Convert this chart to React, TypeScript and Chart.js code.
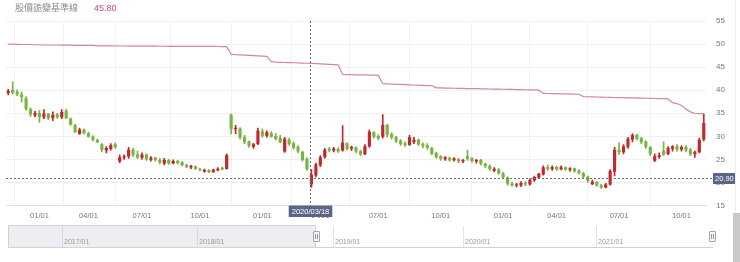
import React, { useEffect, useRef } from 'react';
import { Chart, registerables } from 'chart.js';

Chart.register(...registerables);

const LEGEND_LABEL = '股價詭變基準線';
const LEGEND_VALUE = '45.80';

const OPEN = [
  39.4, 40.0, 39.6, 39.0, 38.2, 35.8, 34.6, 35.0, 34.2, 34.8,
  34.0, 34.7, 34.2, 35.4, 33.8, 32.4, 30.6, 31.4, 30.6, 29.9,
  29.2, 28.2, 27.0, 27.3, 28.2, 24.6, 25.4, 25.7, 27.0, 26.0,
  25.4, 26.0, 25.0, 25.3, 24.8, 24.2, 24.8, 24.2, 24.6, 24.3,
  23.7, 23.3, 23.4, 22.9, 22.4, 22.6, 22.3, 22.7, 23.1, 23.0,
  34.6, 31.6, 31.6, 29.8, 28.8, 27.8, 28.4, 31.0, 30.2, 30.6,
  30.0, 29.6, 26.8, 29.2, 28.4, 27.6, 26.6, 25.0, 19.6, 21.6,
  23.8, 25.6, 27.3, 27.0, 27.2, 27.0, 28.4, 27.4, 27.5, 26.7,
  26.2, 27.9, 30.8, 30.0, 30.0, 32.4, 30.4, 29.8, 29.0, 28.4,
  28.2, 28.8, 29.2, 28.3, 28.0, 27.4, 26.3, 25.6, 25.1, 25.3,
  24.9, 25.0, 24.6, 25.6, 25.2, 24.6, 24.8, 24.0, 23.5, 22.6,
  22.8, 21.9, 21.0, 19.7, 19.4, 19.4, 19.8, 19.6, 20.5, 21.1,
  21.8, 23.2, 23.0, 23.3, 22.9, 23.2, 22.8, 23.0, 22.5, 22.0,
  21.2, 19.7, 20.0, 19.3, 19.0, 19.6, 22.4, 27.0, 26.6, 27.8,
  29.4, 30.2, 29.5, 28.8, 27.6, 24.8, 25.6, 26.8, 26.2, 27.4,
  27.8, 27.2, 27.6, 27.0, 26.2, 26.6, 29.4,
];

const HIGH = [
  40.2, 41.8, 40.1, 39.6, 38.6, 36.2, 35.4, 35.6, 35.8, 35.0,
  35.3, 35.0, 35.8, 35.9, 34.0, 32.6, 31.8, 31.6, 30.9, 30.1,
  29.4, 28.4, 27.8, 28.4, 28.6, 26.0, 26.0, 27.6, 27.4, 26.8,
  26.4, 26.2, 25.6, 25.5, 25.2, 25.2, 25.0, 24.9, 24.8, 24.5,
  24.0, 23.7, 23.6, 23.1, 22.9, 22.8, 22.9, 23.2, 23.4, 26.2,
  34.8, 32.4, 31.9, 30.2, 29.0, 28.5, 31.8, 31.6, 31.2, 31.0,
  30.6, 30.2, 29.8, 29.6, 28.8, 28.0, 26.8, 25.4, 22.8, 24.2,
  25.8, 27.4, 27.6, 27.6, 27.5, 32.3, 28.6, 27.9, 27.7, 27.0,
  28.2, 31.4, 31.0, 30.4, 34.7, 32.6, 30.8, 30.0, 29.3, 28.8,
  30.2, 29.8, 29.4, 28.6, 28.4, 27.6, 26.6, 25.8, 25.6, 25.5,
  25.4, 25.2, 25.0, 27.0, 25.4, 25.0, 25.0, 24.2, 23.8, 23.2,
  23.0, 22.2, 21.2, 20.1, 19.8, 20.2, 20.2, 20.8, 21.4, 22.0,
  23.6, 23.8, 23.6, 23.5, 23.6, 23.4, 23.2, 23.1, 22.8, 22.2,
  21.4, 20.5, 20.2, 19.6, 19.8, 22.8, 27.6, 28.6, 28.2, 29.8,
  30.6, 30.5, 29.8, 29.0, 27.8, 26.2, 26.4, 28.8, 27.8, 28.0,
  28.2, 28.0, 28.0, 27.4, 26.8, 29.6, 34.8,
];

const LOW = [
  39.0, 39.2, 38.8, 37.4, 35.6, 34.3, 34.2, 33.0, 33.8, 33.6,
  33.4, 33.9, 33.8, 33.8, 32.4, 30.8, 30.4, 30.5, 29.8, 29.0,
  28.6, 26.6, 26.4, 27.0, 27.4, 24.3, 25.0, 25.2, 25.6, 25.2,
  25.0, 24.8, 24.6, 24.6, 24.0, 23.8, 23.9, 24.0, 24.0, 23.6,
  23.2, 23.0, 22.8, 22.5, 22.2, 22.1, 22.2, 22.5, 22.7, 22.9,
  30.5, 30.6, 29.4, 28.4, 27.6, 27.4, 28.2, 29.8, 29.8, 29.8,
  29.2, 28.6, 26.5, 28.0, 27.2, 26.4, 24.6, 22.6, 18.9, 21.2,
  23.4, 25.2, 26.6, 26.6, 26.5, 26.8, 27.0, 26.9, 26.4, 25.8,
  26.0, 27.6, 29.6, 29.2, 29.6, 29.8, 29.4, 28.6, 28.0, 27.8,
  28.0, 28.4, 28.0, 27.5, 27.2, 26.0, 25.2, 24.8, 24.8, 24.6,
  24.6, 24.3, 24.3, 24.8, 24.4, 24.2, 23.8, 23.2, 22.6, 22.3,
  21.8, 20.8, 19.4, 19.2, 19.0, 19.1, 19.3, 19.4, 20.2, 20.8,
  21.6, 22.6, 22.6, 22.6, 22.7, 22.6, 22.4, 22.2, 21.8, 21.0,
  20.0, 19.5, 19.2, 18.7, 18.8, 19.4, 21.4, 26.0, 26.2, 27.4,
  28.8, 29.2, 28.4, 27.4, 25.8, 24.5, 25.2, 25.8, 26.0, 26.8,
  26.8, 26.8, 26.6, 25.8, 25.4, 26.4, 29.0,
];

const CLOSE = [
  39.8, 39.5, 39.2, 38.6, 36.0, 34.8, 35.0, 34.2, 34.9, 34.0,
  34.6, 34.2, 35.2, 34.0, 32.6, 31.0, 31.4, 30.7, 30.0, 29.3,
  28.8, 27.1, 27.4, 28.0, 27.7, 25.4, 25.6, 27.0, 26.0, 25.5,
  26.0, 25.1, 25.3, 24.9, 24.4, 24.8, 24.2, 24.6, 24.3, 23.8,
  23.4, 23.5, 23.0, 22.7, 22.7, 22.3, 22.7, 22.9, 22.9, 25.8,
  31.6, 31.8, 29.8, 28.8, 28.0, 28.2, 31.2, 30.2, 30.8, 30.0,
  29.5, 28.8, 29.4, 28.4, 27.6, 26.8, 25.0, 23.0, 21.6, 23.8,
  25.4, 27.0, 27.0, 27.3, 26.8, 28.6, 27.4, 27.6, 26.8, 26.2,
  27.8, 30.9, 30.0, 29.6, 32.4, 30.4, 29.8, 29.0, 28.4, 28.2,
  29.8, 29.2, 28.3, 28.0, 27.6, 26.3, 25.6, 25.2, 25.4, 24.9,
  25.1, 24.6, 24.8, 25.2, 24.7, 24.8, 24.1, 23.6, 23.0, 22.9,
  22.0, 21.2, 19.8, 19.4, 19.5, 19.8, 19.6, 20.5, 21.1, 21.8,
  23.2, 23.0, 23.3, 22.9, 23.2, 22.8, 23.0, 22.5, 22.1, 21.3,
  20.4, 20.1, 19.4, 19.0, 19.5, 22.4, 27.0, 26.6, 27.8, 29.4,
  30.2, 29.5, 28.8, 27.8, 26.2, 25.6, 25.8, 26.2, 27.4, 27.8,
  27.2, 27.6, 27.0, 26.2, 26.6, 29.2, 32.8,
];

const BASELINE = [
  50.0, 50.0, 49.95, 49.9, 49.9, 49.9, 49.85, 49.85, 49.8, 49.8,
  49.8, 49.8, 49.75, 49.75, 49.75, 49.7, 49.7, 49.7, 49.7, 49.7,
  49.6, 49.6, 49.6, 49.6, 49.58, 49.58, 49.58, 49.56, 49.56, 49.56,
  49.55, 49.55, 49.54, 49.54, 49.53, 49.53, 49.52, 49.52, 49.51, 49.51,
  49.5, 49.5, 49.5, 49.49, 49.49, 49.48, 49.48, 49.47, 49.46, 49.45,
  47.8, 47.7, 47.65, 47.6, 47.55, 47.5, 47.45, 47.4, 47.35, 46.2,
  46.1, 46.05, 46.0, 45.98, 45.95, 45.9, 45.88, 45.84, 45.8, 45.75,
  45.7, 45.65, 45.6, 45.55, 45.5, 43.4, 43.38, 43.36, 43.34, 43.32,
  43.3, 43.28, 43.25, 43.2, 41.4, 41.36, 41.32, 41.28, 41.24, 41.2,
  41.16, 41.12, 41.08, 41.04, 41.0, 41.0, 40.5, 40.48, 40.46, 40.44,
  40.42, 40.4, 40.38, 40.36, 40.34, 40.32, 40.3, 40.28, 40.26, 40.24,
  40.22, 40.2, 40.18, 40.16, 40.14, 40.12, 40.1, 40.08, 40.05, 40.0,
  39.3, 39.28, 39.26, 39.24, 39.22, 39.2, 39.18, 39.15, 39.12, 38.6,
  38.58, 38.55, 38.52, 38.5, 38.47, 38.45, 38.42, 38.4, 38.37, 38.35,
  38.32, 38.3, 38.27, 38.25, 38.22, 38.2, 38.18, 38.15, 38.1, 37.3,
  37.1, 36.7, 35.9, 35.3, 35.0, 34.9, 34.9,
];

const TICK_INDEX = [7, 18, 30, 43, 57, 70, 83, 97, 111, 123, 137, 151];
const TICK_TEXT = ['01/01', '04/01', '07/01', '10/01', '01/01', '04/01', '07/01', '10/01', '01/01', '04/01', '07/01', '10/01'];

const Y_MIN = 15;
const Y_MAX = 55;
const Y_STEP = 5;

const CROSS_INDEX = 68;
const CROSS_VALUE = 20.9;
const CROSS_DATE = '2020/03/18';

const NAV_YEARS = ['2017/01', '2018/01', '2019/01', '2020/01', '2021/01'];

const RED = '#c0282b';
const GREEN = '#7ab342';
const PINK = '#d4869b';
const LABEL_BG = '#5a6588';
const FONT = '"Liberation Sans", Arial, sans-serif';

const crosshairPlugin = {
  id: 'crosshair',
  afterDraw(chart: any) {
    const { ctx, chartArea, scales } = chart;
    const x = Math.round(scales.x.getPixelForValue(CROSS_INDEX)) - 0.5;
    const y = Math.round(scales.y.getPixelForValue(CROSS_VALUE)) + 0.5;
    ctx.save();
    ctx.strokeStyle = '#6a6a6a';
    ctx.lineWidth = 1;
    ctx.setLineDash([2, 2]);
    ctx.beginPath();
    ctx.moveTo(x, chartArea.top);
    ctx.lineTo(x, chartArea.bottom);
    ctx.moveTo(chartArea.left, y);
    ctx.lineTo(chartArea.right + 7, y);
    ctx.stroke();
    ctx.setLineDash([]);
    ctx.font = '7.5px ' + FONT;
    ctx.textBaseline = 'middle';
    const yt = CROSS_VALUE.toFixed(2);
    const yw = ctx.measureText(yt).width + 4;
    ctx.fillStyle = LABEL_BG;
    ctx.fillRect(chartArea.right + 7, y - 5.5, yw, 11);
    ctx.fillStyle = '#fff';
    ctx.textAlign = 'left';
    ctx.fillText(yt, chartArea.right + 9, y);
    const xw = ctx.measureText(CROSS_DATE).width + 6;
    ctx.fillStyle = LABEL_BG;
    ctx.fillRect(x - xw / 2, chartArea.bottom, xw, 11.5);
    ctx.fillStyle = '#fff';
    ctx.textAlign = 'center';
    ctx.fillText(CROSS_DATE, x, chartArea.bottom + 6);
    ctx.restore();
  },
};

export default function App() {
  const ref = useRef<HTMLCanvasElement>(null);

  useEffect(() => {
    const canvas = ref.current;
    if (!canvas) return;
    const colors = CLOSE.map((c, i) => (c >= OPEN[i] ? RED : GREEN));
    const labels = CLOSE.map((_, i) => String(i));
    const chart = new Chart(canvas, {
      type: 'bar',
      data: {
        labels,
        datasets: [
          {
            type: 'line',
            data: BASELINE,
            borderColor: PINK,
            borderWidth: 1.2,
            pointRadius: 0,
            tension: 0,
            order: 0,
          } as any,
          {
            type: 'bar',
            data: LOW.map((l, i) => [l, HIGH[i]]),
            backgroundColor: colors,
            barThickness: 1,
            grouped: false,
            order: 2,
          },
          {
            type: 'bar',
            data: OPEN.map((o, i) => [o, CLOSE[i]]),
            backgroundColor: colors,
            barThickness: 2.5,
            grouped: false,
            order: 1,
          },
        ],
      },
      options: {
        responsive: false,
        animation: false,
        layout: { padding: { left: 6, right: 0, top: 21, bottom: 0 } },
        plugins: { legend: { display: false }, tooltip: { enabled: false } },
        scales: {
          x: {
            type: 'category',
            offset: true,
            grid: { color: '#f2f2f2', drawTicks: false },
            border: { display: true, color: '#e2e2e2' },
            ticks: {
              autoSkip: false,
              maxRotation: 0,
              padding: 6,
              color: '#777',
              font: { size: 7.5, family: FONT },
              callback: (_v: any, index: number) => {
                const k = TICK_INDEX.indexOf(index);
                return k >= 0 ? TICK_TEXT[k] : null;
              },
            },
            afterFit: (s: any) => {
              s.height = 22.5;
            },
          },
          y: {
            position: 'right',
            min: Y_MIN,
            max: Y_MAX,
            grid: { color: '#f0f0f0', drawTicks: false },
            border: { display: false },
            ticks: {
              stepSize: Y_STEP,
              padding: 10,
              color: '#777',
              font: { size: 8, family: FONT },
            },
            afterFit: (s: any) => {
              s.width = 34;
            },
          },
        },
      } as any,
      plugins: [crosshairPlugin],
    });
    return () => chart.destroy();
  }, []);

  const navSeps = [
    { x: 62, shaded: true },
    { x: 197, shaded: true },
    { x: 333, shaded: false },
    { x: 463, shaded: false },
    { x: 596, shaded: false },
  ];

  const handle = (left: number) => (
    <div
      style={{
        position: 'absolute',
        left,
        top: 231,
        width: 5,
        height: 9,
        border: '1px solid #a6a6a6',
        background: '#f6f6f6',
        borderRadius: 1,
      }}
    >
      <div style={{ position: 'absolute', left: 1, top: 2, width: 1, height: 5, background: '#999' }} />
      <div style={{ position: 'absolute', left: 3, top: 2, width: 1, height: 5, background: '#999' }} />
    </div>
  );

  return (
    <div
      style={{
        position: 'fixed',
        left: 0,
        top: 0,
        width: 740,
        height: 262,
        background: '#fff',
        overflow: 'hidden',
        fontFamily: FONT,
      }}
    >
      <canvas ref={ref} width={740} height={228} style={{ position: 'absolute', left: 0, top: 0 }} />
      <div
        style={{
          position: 'absolute',
          left: 15,
          top: 1,
          fontSize: 9,
          lineHeight: '14px',
          color: '#8c8c8c',
          whiteSpace: 'nowrap',
          fontFamily: '"Noto Sans CJK TC", sans-serif',
        }}
      >
        <span>{LEGEND_LABEL}</span>
        <span style={{ marginLeft: 16, color: '#c9487c', fontFamily: FONT }}>{LEGEND_VALUE}</span>
      </div>

      {/* navigator */}
      <div style={{ position: 'absolute', left: 8, top: 247, width: 705, height: 1, background: '#d2d2d2' }} />
      <div
        style={{
          position: 'absolute',
          left: 8,
          top: 225,
          width: 308,
          height: 23,
          boxSizing: 'border-box',
          background: '#eceef1',
          border: '1px solid #d0d3d8',
        }}
      />
      {navSeps.map((s, i) => (
        <React.Fragment key={i}>
          <div
            style={{
              position: 'absolute',
              left: s.x,
              top: 226,
              width: 1,
              height: 21,
              background: s.shaded ? '#d6d9de' : '#e4e4e4',
            }}
          />
          <div
            style={{
              position: 'absolute',
              left: s.x + 2,
              top: 237,
              fontSize: 7,
              lineHeight: '9px',
              color: '#9a9a9a',
              whiteSpace: 'nowrap',
            }}
          >
            {NAV_YEARS[i]}
          </div>
        </React.Fragment>
      ))}
      {handle(313)}
      {handle(709)}

      {/* page scrollbar edge */}
      <div style={{ position: 'absolute', left: 735, top: 0, width: 1, height: 213, background: '#ececec' }} />
      <div style={{ position: 'absolute', left: 733, top: 213, width: 7, height: 49, background: '#cacaca' }} />
    </div>
  );
}
